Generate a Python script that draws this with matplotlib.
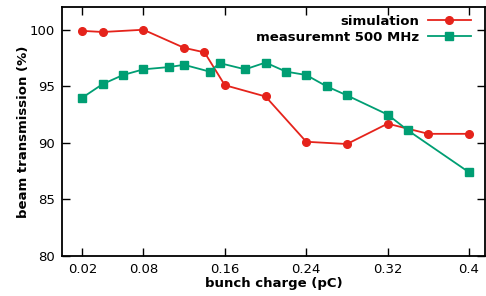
import matplotlib
matplotlib.use("Agg")
import matplotlib.pyplot as plt

# simulation
sim_charge = [0.02, 0.04, 0.08, 0.12, 0.14, 0.16, 0.20, 0.24, 0.28, 0.32, 0.36, 0.40]
sim_trans = [99.9, 99.8, 100.0, 98.4, 98.0, 95.1, 94.1, 90.1, 89.9, 91.7, 90.8, 90.8]

# measurement 500 MHz
meas_charge = [0.02, 0.04, 0.06, 0.08, 0.105, 0.12, 0.145, 0.155, 0.18, 0.20,
               0.22, 0.24, 0.26, 0.28, 0.32, 0.34, 0.40]
meas_trans = [94.0, 95.2, 96.0, 96.5, 96.7, 96.9, 96.3, 97.05, 96.5, 97.1,
              96.3, 96.0, 95.0, 94.2, 92.5, 91.1, 87.4]

x_ticks = [0.02, 0.08, 0.16, 0.24, 0.32, 0.4]
x_labels = ["0.02", "0.08", "0.16", "0.24", "0.32", "0.4"]
y_ticks = [80, 85, 90, 95, 100]

fig = plt.figure(figsize=(4.86, 2.96), dpi=100)
ax = fig.add_axes([0.1276, 0.135, 0.870, 0.841])

ax.plot(sim_charge, sim_trans, color="#e5231b", lw=1.3, marker="o", ms=5.5,
        label="simulation")
ax.plot(meas_charge, meas_trans, color="#009e73", lw=1.3, marker="s", ms=5.2,
        label="measuremnt 500 MHz")

ax.set_xlim(0, 0.4155)
ax.set_ylim(80, 102)
ax.set_xticks(x_ticks)
ax.set_xticklabels(x_labels)
ax.set_yticks(y_ticks)
ax.tick_params(direction="in", length=5.5, width=1, top=True, right=True,
               labelsize=9.5, pad=5)
for s in ax.spines.values():
    s.set_linewidth(1.3)

ax.set_xlabel("bunch charge (pC)", fontsize=9.5, fontweight="bold", labelpad=1)
ax.set_ylabel("beam transmission (%)", fontsize=9.5, fontweight="bold", labelpad=0)

leg = ax.legend(loc="upper right", frameon=False, markerfirst=False,
                prop={"weight": "bold", "size": 9.5}, handlelength=3.2,
                borderaxespad=0.2, borderpad=0.4, labelspacing=0.2,
                handletextpad=0.7, bbox_to_anchor=(0.985, 1.0))
for t in leg.get_texts():
    t.set_ha("right")

fig.savefig("out.png", dpi=100)
